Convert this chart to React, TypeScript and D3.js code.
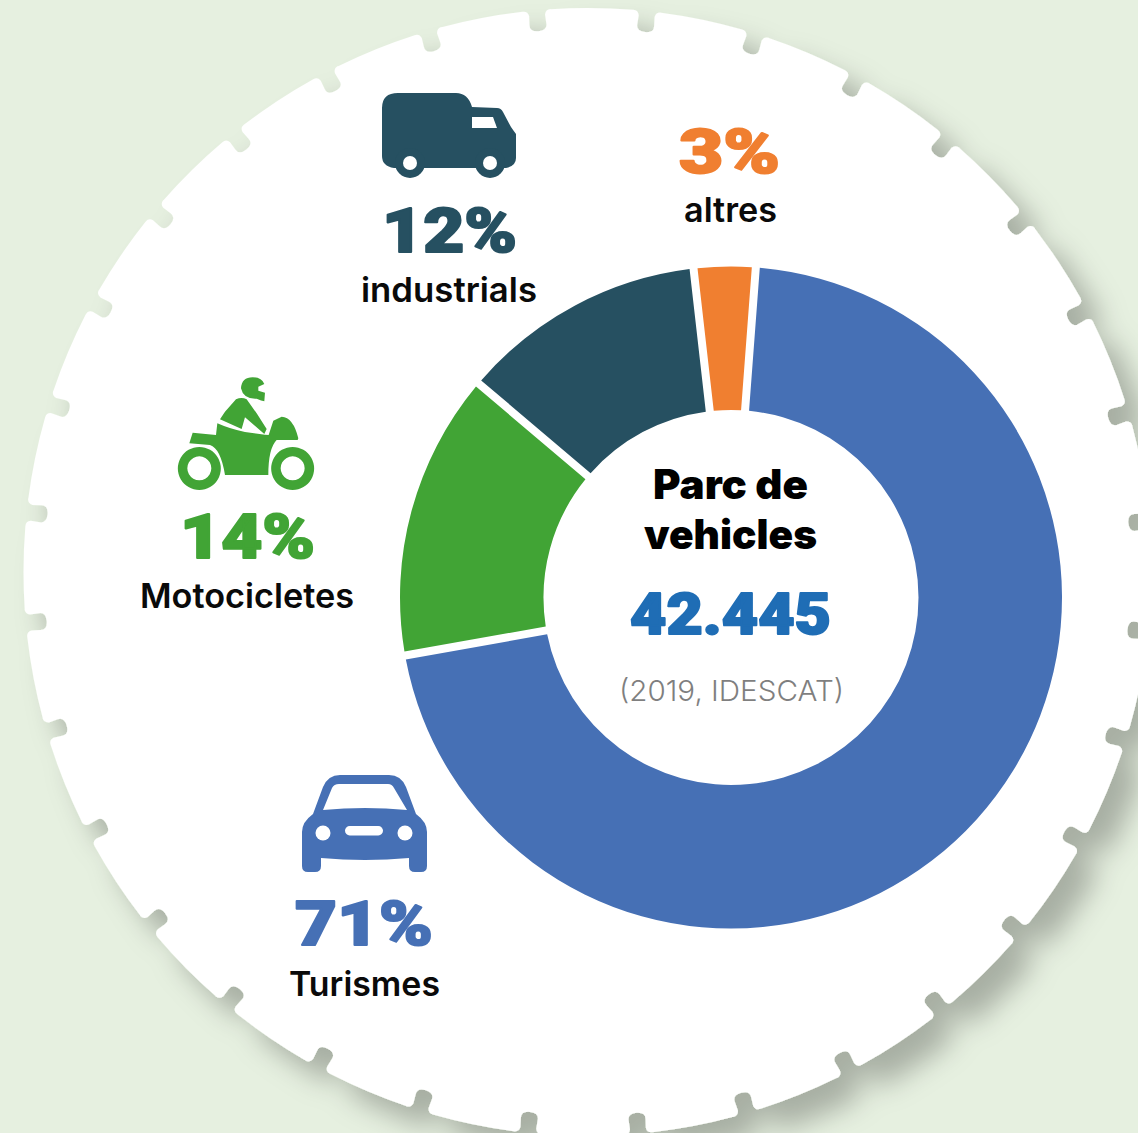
import React from "react";
import * as d3 from "d3";

const categories = ["Turismes", "Motocicletes", "industrials", "altres"];
const shares = [71, 14, 12, 3];
const colors = ["#4670b5", "#41a435", "#265061", "#f07f30"];
const percentLabels = ["71%", "14%", "12%", "3%"];
const centerTitle = ["Parc de", "vehicles"];
const centerValue = "42.445";
const centerNote = "(2019, IDESCAT)";

const W = 1138, H = 1133;
const FONT = "Inter, 'Open Sans', sans-serif";
const HEAVY = "Roboto, Inter, sans-serif";

function gearPath(cx: number, cy: number, R: number, n: number, rot: number) {
  const p = d3.path();
  const pt = (r: number, a: number, v: number): [number, number] => [
    cx + r * Math.sin(a) + v * Math.cos(a),
    cy - r * Math.cos(a) + v * Math.sin(a),
  ];
  const step = (2 * Math.PI) / n;
  const opening = 14 / R;
  for (let k = 0; k < n; k++) {
    const a = (k + 0.5) * step + rot;
    const s = pt(R, a - opening, 0);
    if (k === 0) p.moveTo(s[0], s[1]);
    else p.lineTo(s[0], s[1]);
    const c = (u: number, v: number) => pt(R - u, a, v);
    const q = (u1: number, v1: number, u2: number, v2: number) => {
      const A = c(u1, v1), B = c(u2, v2);
      p.quadraticCurveTo(A[0], A[1], B[0], B[1]);
    };
    const l = (u: number, v: number) => { const A = c(u, v); p.lineTo(A[0], A[1]); };
    q(0, -9, 5, -8);
    l(14, -8.5);
    q(21, -9, 21, 0);
    q(21, 9, 14, 8.5);
    l(5, 8);
    q(0, 9, 0, 14);
    const start = a + opening - Math.PI / 2;
    const end = a + step - opening - Math.PI / 2;
    p.arc(cx, cy, R, start, end);
  }
  p.closePath();
  return p.toString();
}

const pie = d3.pie<number>().sort(null).value((d) => d)
  .startAngle((4.3 * Math.PI) / 180)
  .endAngle((364.3 * Math.PI) / 180);

const arc = d3.arc<d3.PieArcDatum<number>>()
  .innerRadius(187.5).outerRadius(331)
  .padAngle(8 / 260).padRadius(260);

type Lab = { x0: number; x1: number; pctY: number; nameY: number };
const labelBoxes: Lab[] = [
  { x0: 295, x1: 433, pctY: 945, nameY: 996 },
  { x0: 180, x1: 315, pctY: 558, nameY: 608 },
  { x0: 382, x1: 517, pctY: 252, nameY: 302 },
  { x0: 679, x1: 780, pctY: 173, nameY: 222 },
];
const nameBoxes = [[289, 440], [140, 354], [361, 537], [684, 777]];

function Fit({ x0, x1, y, size, weight, fill, bold = 0, family = FONT, children }: any) {
  return (
    <text x={x0} y={y} fontSize={size} fontWeight={weight} fill={fill} fontFamily={family}
      stroke={bold ? fill : "none"} strokeWidth={bold} strokeLinejoin="round"
      textLength={x1 - x0} lengthAdjust="spacingAndGlyphs">{children}</text>
  );
}

export default function App() {
  const arcs = pie(shares);
  return (
    <svg width={W} height={H} viewBox={`0 0 ${W} ${H}`}
      style={{ position: "absolute", left: 0, top: 0, display: "block" }}>
      <defs>
        <filter id="sh" x="-20%" y="-20%" width="140%" height="140%">
          <feDropShadow dx="21" dy="21" stdDeviation="14" floodColor="#000" floodOpacity="0.27" />
        </filter>
      </defs>
      <rect width={W} height={H} fill="#e6f0e0" />
      <path d={gearPath(587.5, 572, 564, 32, (0.45 * Math.PI) / 180)} fill="#ffffff" filter="url(#sh)" />

      <g transform="translate(731,597.5)">
        {arcs.map((a, i) => <path key={categories[i]} d={arc(a) || ""} fill={colors[i]} />)}
      </g>

      {/* truck */}
      <g fill={colors[2]}>
        <path d="M398,93 L456,93 Q468,93 472,107 L497,108 Q501,108 503,112 L511,127 Q513,130 516,134 L516,158 Q516,166 506,168 L474,168 L426,168 L394,168 Q382,166 382,156 L382,108 Q382,93 398,93 Z" />
        <circle cx={410} cy={163} r={15} />
        <circle cx={490} cy={163} r={15} />
        <circle cx={410} cy={163} r={7} fill="#fff" />
        <circle cx={490} cy={163} r={7} fill="#fff" />
        <path d="M472,117 L493,117 L497,128 L472,128 Z" fill="#fff" />
      </g>

      {/* motorcycle */}
      <g fill={colors[1]} transform="translate(130,360) scale(0.3333)">
        <path fillRule="evenodd" d="M208,261 a64.5,64.5 0 1 0 0.01,0 Z M208,289 a36,36 0 1 1 -0.01,0 Z" />
        <path fillRule="evenodd" d="M488,261 a64.5,64.5 0 1 0 0.01,0 Z M488,289 a36,36 0 1 1 -0.01,0 Z" />
        <path d="M188,218 L258,225 L262,190 Q300,207 345,216 L405,224 L416,225 L430,182 L455,170 Q490,172 505,235 L503,240 L440,240 Q415,265 415,345 L285,345 Q272,265 240,255 L178,250 Z" />
        <path d="M318,118 Q335,110 350,118 L380,160 L410,207 L403,222 L345,172 L335,207 L270,178 L285,155 Z" />
        <path d="M333,85 Q335,52 368,52 Q395,52 403,72 L385,80 L385,92 L405,98 L403,124 Q395,122 380,116 Q340,118 333,85 Z" />
      </g>

      {/* car */}
      <g fill={colors[0]}>
        <path d="M340,775 L389,775 Q401,775 406,787 L416,814 Q427,822 427,832 L427,866 Q427,872 421,872 L415,872 Q409,872 409,866 L409,858 Q365,862 321,858 L321,866 Q321,872 315,872 L308,872 Q302,872 302,866 L302,832 Q302,822 313,814 L323,787 Q328,775 340,775 Z" />
        <path d="M323,810 L332,788 Q334,784 339,784 L388,784 Q392,784 394,788 L407,810 Q365,806 323,810 Z" fill="#fff" />
        <circle cx={323} cy={833} r={7.5} fill="#fff" />
        <circle cx={405} cy={833} r={7.5} fill="#fff" />
        <rect x={345} y={826} width={38} height={9.5} rx={4.7} fill="#fff" />
      </g>

      {categories.map((c, i) => (
        <g key={c}>
          <Fit x0={labelBoxes[i].x0} x1={labelBoxes[i].x1} y={labelBoxes[i].pctY}
            size={61} weight={900} bold={2} family={HEAVY} fill={colors[i]}>{percentLabels[i]}</Fit>
          <Fit x0={nameBoxes[i][0]} x1={nameBoxes[i][1]} y={labelBoxes[i].nameY}
            size={34} weight={600} fill="#0a0a0a">{c}</Fit>
        </g>
      ))}

      <Fit x0={653} x1={808} y={499} size={41} weight={900} fill="#000">{centerTitle[0]}</Fit>
      <Fit x0={644} x1={817} y={549} size={41} weight={900} fill="#000">{centerTitle[1]}</Fit>
      <Fit x0={630} x1={831} y={634} size={57} weight={900} bold={2} family={HEAVY} fill="#1f6db5">{centerValue}</Fit>
      <Fit x0={619} x1={844} y={701} size={29} weight={300} fill="#7f7f7f">{centerNote}</Fit>
    </svg>
  );
}
